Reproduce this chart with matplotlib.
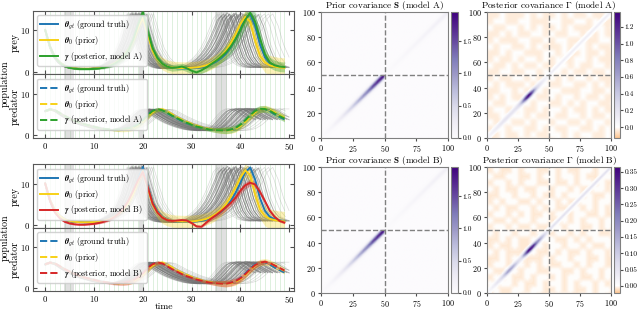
import numpy as np
import matplotlib
matplotlib.use('Agg')
import matplotlib.pyplot as plt
from matplotlib.colors import LinearSegmentedColormap

plt.rcParams['font.family'] = 'serif'
plt.rcParams['font.serif'] = ['cmr10', 'DejaVu Serif']
plt.rcParams['mathtext.fontset'] = 'cm'
plt.rcParams['axes.formatter.use_mathtext'] = True
plt.rcParams['axes.unicode_minus'] = False

# ---- time series (t = 0..49) ----
t = np.arange(50)
prey_gt = [10.0, 6.0, 3.5, 2.2, 1.4, 1.0, 0.8, 0.7, 0.65, 0.65,
           0.7, 0.8, 1.0, 1.3, 1.8, 2.5, 3.5, 5.0, 7.5, 11.0,
           14.0, 9.5, 5.5, 3.3, 2.0, 1.4, 1.0, 0.8, 0.75, 0.75,
           0.8, 0.9, 1.05, 1.3, 1.8, 2.4, 3.2, 4.3, 5.8, 7.8,
           10.2, 12.8, 13.9, 11.0, 6.5, 3.5, 2.0, 1.4, 1.1, 1.0]
prey_prior = [10.0, 6.0, 3.5, 2.2, 1.4, 1.0, 0.8, 0.7, 0.7, 0.7,
              0.75, 0.85, 1.05, 1.35, 1.9, 2.6, 3.6, 5.1, 7.4, 10.5,
              13.0, 9.0, 5.0, 3.0, 1.9, 1.3, 1.0, 0.9, 0.85, 0.85,
              0.9, 1.0, 1.2, 1.5, 2.0, 2.7, 3.6, 5.0, 6.8, 9.0,
              11.5, 13.2, 12.0, 7.5, 3.8, 2.2, 1.5, 1.2, 1.0, 0.9]
prey_post_A = [10.0, 6.0, 3.4, 2.1, 1.3, 0.9, 0.7, 0.6, 0.6, 0.6,
               0.65, 0.75, 0.95, 1.3, 1.8, 2.5, 3.5, 5.0, 7.6, 11.2,
               14.3, 9.8, 5.6, 3.2, 1.9, 1.2, 0.9, 1.0, 1.2, 0.8,
               0.2, -0.2, 0.3, 1.0, 1.8, 2.6, 3.5, 4.6, 6.0, 7.8,
               10.0, 12.5, 14.2, 12.0, 8.0, 4.2, 2.2, 1.5, 1.2, 1.1]
prey_post_B = [10.0, 5.8, 3.0, 1.6, 0.8, 0.4, 0.2, 0.1, 0.1, 0.2,
               0.3, 0.5, 0.8, 1.2, 1.8, 2.7, 4.0, 5.8, 8.2, 10.8,
               12.8, 9.2, 5.2, 3.0, 1.8, 1.2, 1.0, 1.1, 1.2, 1.1,
               0.5, -0.3, -0.4, 0.6, 1.6, 2.4, 3.3, 4.3, 5.3, 6.6,
               8.3, 9.6, 10.2, 9.8, 8.0, 5.8, 3.5, 2.0, 1.0, 0.6]

pred_gt = [5.8, 6.2, 6.0, 5.3, 4.6, 4.0, 3.5, 3.0, 2.6, 2.3,
           2.0, 1.7, 1.5, 1.3, 1.2, 1.2, 1.3, 1.5, 1.9, 2.6,
           3.6, 4.9, 5.8, 6.2, 6.0, 5.3, 4.6, 4.0, 3.4, 2.9,
           2.5, 2.1, 1.8, 1.5, 1.3, 1.2, 1.1, 1.1, 1.3, 1.7,
           2.5, 3.6, 4.8, 5.8, 6.3, 6.3, 5.8, 5.0, 4.4, 3.8]
pred_prior = [5.8, 6.2, 6.0, 5.3, 4.6, 4.0, 3.5, 3.0, 2.6, 2.3,
              2.0, 1.7, 1.5, 1.3, 1.2, 1.15, 1.2, 1.4, 1.7, 2.3,
              3.2, 4.4, 5.5, 6.1, 6.2, 5.7, 5.0, 4.3, 3.7, 3.2,
              2.7, 2.3, 1.9, 1.6, 1.4, 1.2, 1.1, 1.1, 1.2, 1.5,
              2.2, 3.2, 4.4, 5.5, 6.2, 6.4, 6.1, 5.5, 4.8, 4.2]
pred_post_A = [5.8, 6.2, 6.0, 5.3, 4.6, 4.0, 3.5, 3.0, 2.6, 2.3,
               2.0, 1.7, 1.5, 1.4, 1.3, 1.35, 1.5, 1.6, 1.9, 2.5,
               3.5, 4.8, 5.8, 6.2, 6.0, 5.4, 4.7, 4.1, 3.5, 3.0,
               2.5, 2.1, 1.8, 1.5, 1.3, 1.2, 1.15, 1.15, 1.3, 1.7,
               2.5, 3.6, 4.8, 5.8, 6.3, 6.3, 5.9, 5.2, 4.6, 4.0]
pred_post_B = [5.8, 6.2, 6.0, 5.3, 4.6, 4.0, 3.5, 3.0, 2.6, 2.3,
               2.0, 1.7, 1.5, 1.3, 1.2, 1.2, 1.3, 1.5, 1.9, 2.6,
               3.6, 4.9, 5.8, 6.2, 6.0, 5.3, 4.6, 4.0, 3.4, 2.9,
               2.5, 2.1, 1.8, 1.5, 1.3, 1.2, 1.1, 1.1, 1.3, 1.7,
               2.4, 3.4, 4.6, 5.6, 6.2, 6.4, 6.1, 5.5, 4.9, 4.3]

# band half-widths
hw_prior_prey = [0.2] * 15 + [0.4, 0.6, 0.8, 1.0, 1.0, 1.0, 1.0, 1.2, 1.4, 1.5,
                              1.5, 1.5, 1.5, 1.5, 1.5, 1.5, 1.5, 1.5, 1.5, 1.5,
                              1.5, 1.5, 1.5, 1.5, 1.5, 1.5, 1.5, 1.8, 2.0, 2.2,
                              2.4, 2.4, 2.4, 2.4, 2.4]
hw_post_prey = [0.2] * 12 + [0.3, 0.4, 0.6, 0.8, 1.0, 1.2, 1.5, 1.5, 1.5, 1.5,
                             1.2, 1.0, 0.8, 0.8, 0.8, 0.8, 0.8, 0.8, 0.8, 0.8,
                             0.8, 0.9, 1.0, 1.2, 1.4, 1.6, 1.8, 2.0, 2.0, 2.0,
                             2.0, 2.0, 1.8, 1.5, 1.3, 1.2, 1.2, 1.2]
hw_pred = [0.2] * 15 + [0.3, 0.4, 0.5, 0.6, 0.7, 0.7, 0.6, 0.5, 0.5, 0.5,
                        0.5, 0.4, 0.4, 0.4, 0.4, 0.4, 0.4, 0.4, 0.4, 0.5,
                        0.6, 0.7, 0.8, 0.8, 0.8, 0.8, 0.8, 0.8, 0.8, 0.8,
                        0.8, 0.8, 0.8, 0.8, 0.8]
hw_red = [0.2] * 12 + [0.3, 0.3, 0.4, 0.5, 0.6, 0.7, 0.7, 0.7, 0.7, 0.6,
                       0.5, 0.4, 0.3, 0.3, 0.3, 0.3, 0.3, 0.3, 0.3, 0.3,
                       0.3, 0.4, 0.5, 0.6, 0.7, 0.8, 0.8, 0.8, 0.8, 0.8,
                       0.8, 0.7, 0.6, 0.5, 0.4, 0.3, 0.3, 0.3]

# prior ensemble members: time stretch and amplitude factor
ens_stretch = [0.86, 0.87, 0.88, 0.89, 0.90, 0.90, 0.91, 0.92, 0.92, 0.93,
               0.93, 0.94, 0.95, 0.95, 0.96, 0.97, 0.97, 0.98, 0.99, 1.00,
               1.01, 1.02, 1.04]
ens_amp = [0.97, 1.0, 0.98, 1.02, 0.99, 1.0, 0.97, 1.01, 0.98, 1.0,
           1.02, 0.99, 0.97, 1.0, 1.01, 0.98, 1.0, 0.99, 1.02, 0.98,
           1.0, 0.97, 0.99]
faint_stretch = [0.84, 0.85, 0.88, 0.95, 1.03, 1.05, 1.07, 1.09, 1.11]

obs_spans = [(3.9, 5.9), (19.3, 20.2), (34.8, 37.2)]

C_BLUE = '#1f77b4'
C_YEL = '#f7d117'
C_GREEN = '#2ca02c'
C_RED = '#d62728'


def series_panel(ax, gt, prior, post, hw_p, hw_q, col, ls, model):
    for x in t:
        ax.axvline(x, color=C_GREEN, alpha=0.18, lw=0.6, zorder=0)
    for a, b in obs_spans:
        ax.axvspan(a, b, color='0.6', alpha=0.3, lw=0, zorder=0)
    gt = np.array(gt)
    for s in faint_stretch:
        m = t * s <= 50
        ax.plot(t[m] * s, gt[m], color='0.6', lw=0.5, alpha=0.35, zorder=1)
    for s, a in zip(ens_stretch, ens_amp):
        m = t * s <= 50
        ax.plot(t[m] * s, gt[m] * a, color='0.45', lw=0.7, alpha=0.55, zorder=1)
    prior = np.array(prior)
    post = np.array(post)
    ax.fill_between(t, prior - np.array(hw_p), prior + np.array(hw_p),
                    color=C_YEL, alpha=0.3, lw=0, zorder=2)
    ax.fill_between(t, post - np.array(hw_q), post + np.array(hw_q),
                    color=col, alpha=0.35, lw=0, zorder=2)
    l1, = ax.plot(t, gt, color=C_BLUE, lw=1.4, ls=ls, zorder=3,
                  label=r'$\boldsymbol{\theta}_{gt}$ (ground truth)')
    l2, = ax.plot(t, prior, color=C_YEL, lw=1.4, ls=ls, zorder=3,
                  label=r'$\boldsymbol{\theta}_{0}$ (prior)')
    l3, = ax.plot(t, post, color=col, lw=1.4, ls=ls, zorder=4,
                  label=r'$\boldsymbol{\gamma}$ (posterior, model %s)' % model)
    ax.legend(handles=[l1, l2, l3], loc='upper left', fontsize=5.8,
              handlelength=2.2, framealpha=0.85, borderpad=0.4,
              labelspacing=0.35, edgecolor='0.8')
    ax.set_xlim(-2.5, 51)
    ax.set_ylim(-0.7, 14.6)
    ax.set_xticks([0, 10, 20, 30, 40, 50])
    ax.set_yticks([0, 10])
    ax.tick_params(direction='in', top=True, right=True, labelsize=6.3,
                   length=3, pad=2, color='0.3')
    for sp in ax.spines.values():
        sp.set_color('0.35')


fig = plt.figure(figsize=(6.4, 3.11), dpi=100)

groups = [
    (0.7605, 0.5563, prey_post_A, pred_post_A, C_GREEN, hw_post_prey, hw_pred, 'A'),
    (0.2669, 0.0643, prey_post_B, pred_post_B, C_RED, hw_red, hw_red, 'B'),
]
for y_prey, y_pred, pq, dq, col, hwq, hwd, model in groups:
    h = y_prey - y_pred
    ax1 = fig.add_axes([0.0516, y_prey, 0.408, 0.2042])
    ax2 = fig.add_axes([0.0516, y_pred, 0.408, h])
    series_panel(ax1, prey_gt, prey_prior, pq, hw_prior_prey, hwq, col, '-', model)
    series_panel(ax2, pred_gt, pred_prior, dq, hw_pred, hwd, col, '--', model)
    ax1.tick_params(labelbottom=False)
    ax1.set_ylabel('prey', fontsize=7.2)
    ax2.set_ylabel('predator', fontsize=7.2)
    ax1.yaxis.set_label_coords(-0.052, 0.5)
    ax2.yaxis.set_label_coords(-0.052, 0.5)
    fig.text(0.008, y_prey - 0.03, 'population', rotation=90,
             va='center', ha='center', fontsize=7.2)
    if model == 'B':
        ax2.set_xlabel('time', fontsize=7, labelpad=-1.5)

# ---- covariance matrices (100 x 100: prey block 0-49, predator block 50-99) ----
prior_var_prey = [0.01, 0.02, 0.03, 0.04, 0.05, 0.06, 0.07, 0.08, 0.10, 0.12,
                  0.14, 0.16, 0.18, 0.20, 0.22, 0.25, 0.28, 0.30, 0.33, 0.36,
                  0.40, 0.44, 0.48, 0.52, 0.56, 0.60, 0.65, 0.70, 0.75, 0.80,
                  0.85, 0.90, 0.95, 1.00, 1.05, 1.10, 1.15, 1.20, 1.30, 1.40,
                  1.50, 1.55, 1.60, 1.65, 1.70, 1.75, 1.80, 1.85, 1.90, 1.90]
prior_var_pred = [0.02, 0.02, 0.03, 0.03, 0.03, 0.04, 0.04, 0.04, 0.05, 0.05,
                  0.05, 0.06, 0.06, 0.06, 0.07, 0.07, 0.07, 0.08, 0.08, 0.08,
                  0.09, 0.09, 0.10, 0.10, 0.10, 0.11, 0.11, 0.12, 0.12, 0.12,
                  0.13, 0.13, 0.14, 0.14, 0.14, 0.15, 0.15, 0.16, 0.16, 0.16,
                  0.17, 0.17, 0.18, 0.18, 0.19, 0.19, 0.20, 0.20, 0.21, 0.21]
postA_var_prey = [0.06, 0.07, 0.08, 0.09, 0.10, 0.11, 0.12, 0.13, 0.14, 0.15,
                  0.16, 0.17, 0.18, 0.19, 0.20, 0.20, 0.20, 0.20, 0.20, 0.20,
                  0.20, 0.20, 0.21, 0.22, 0.24, 0.28, 0.34, 0.45, 0.60, 0.80,
                  1.00, 1.20, 1.30, 1.35, 1.30, 1.20, 1.00, 0.80, 0.55, 0.40,
                  0.30, 0.25, 0.20, 0.18, 0.15, 0.12, 0.10, 0.10, 0.08, 0.05]
postA_var_pred = [0.12] * 50
postB_var_prey = [0.01, 0.01, 0.02, 0.02, 0.03, 0.03, 0.04, 0.04, 0.05, 0.05,
                  0.06, 0.07, 0.08, 0.10, 0.12, 0.14, 0.16, 0.17, 0.17, 0.16,
                  0.15, 0.14, 0.12, 0.10, 0.08, 0.07, 0.06, 0.07, 0.10, 0.15,
                  0.20, 0.26, 0.32, 0.35, 0.36, 0.36, 0.35, 0.32, 0.28, 0.24,
                  0.20, 0.18, 0.16, 0.14, 0.12, 0.10, 0.08, 0.06, 0.05, 0.03]
postB_var_pred = [0.06] * 50

# orange patches of slightly negative covariance (20 x 20 cells, top row first)
patches_A = ["oo.ooo.o.oo.o.oo.oo.",
             "o..oo..ooo..oo..o.oo",
             ".oo..o.o.oo.o.ooo..o",
             "oo.o.oo..o.oo..o.o.o",
             "o.ooo..oo.o..oo.oo..",
             ".o..oo.o.ooo.o..o.oo",
             "oo.o..ooo..o.oo.oo.o",
             "o.oo.o..o.o.oo..o.oo",
             ".oo.o.oo.oo..o.oo..o",
             "oo..oo..o.o.o.oo.oo.",
             "o.oo..o.oo.o.o..o.oo",
             ".o.ooo.o..oo..oo.o.o",
             "oo..o.oo.o..ooo..oo.",
             "o.o.oo..oo.o..o.oo.o",
             ".oo..o.o..oo.o.o..oo",
             "o..oo.oo.o..o.oo.o.o",
             "oo.o..o.oo.oo..o.oo.",
             ".oo.oo.o..o..oo.o..o",
             "o..o..oo.o.oo..oo.o.",
             "oo.oo.o.oo..o.o..oo."]
patches_B = ["o.oo.o..oo.o.oo..o.o",
             ".oo..oo.o..o..o.oo..",
             "o..o.o..oo.oo.o..o.o",
             ".o.oo.oo..o..o.oo..o",
             "oo..o..o.oo.o..o.oo.",
             "o.o..oo.o..o.oo..o..",
             ".o.oo..o.o.oo..o.o.o",
             "o..o.o.oo.o..o..oo.o",
             ".oo.o..o..oo.o.o..o.",
             "o..o.oo.oo..o..oo.o.",
             ".o..o..o.oo..o.o..oo",
             "oo.o.oo.o..oo.o.o...",
             "o.oo.ooo.o..o..o.oo.",
             ".o.oooo.oo.o.oo.o..o",
             "oo.o.oooo.o..o..oo.o",
             "o..oo.o.o.oo..o.o..o",
             ".oo..o..oo..oo.o..o.",
             "o.o.oo.o..o.o..oo.o.",
             ".o..o.oo.o..o.o..o.o",
             "o.oo..o..oo.o.oo.o.."]


def band_block(var, width):
    v = np.sqrt(np.array(var))
    d = np.subtract.outer(np.arange(50), np.arange(50)).astype(float)
    return np.outer(v, v) * np.exp(-d ** 2 / (2 * width ** 2))


def blur3(a):
    out = np.zeros_like(a)
    for dy in (-1, 0, 1):
        for dx in (-1, 0, 1):
            out += np.roll(np.roll(a, dy, axis=0), dx, axis=1)
    return out / 9.0


def cov_matrix(var_prey, var_pred, w1, w2, patches=None, level=0.0):
    M = np.zeros((100, 100))
    M[:50, :50] = band_block(var_prey, w1)
    M[50:, 50:] = band_block(var_pred, w2)
    if patches is not None:
        g = np.array([[1.0 if c == 'o' else 0.0 for c in row] for row in patches])[::-1]
        g = np.repeat(np.repeat(g, 5, axis=0), 5, axis=1)
        sm = blur3(blur3(g))
        gap = np.abs(np.subtract.outer(np.arange(100), np.arange(100))) > 3
        M += level * sm * gap
    return M


purp = plt.get_cmap('Purples')


def div_cmap(vmin, vmax):
    z = -vmin / (vmax - vmin)
    cols = [(0.0, '#fdc590'), (z, '#ffffff')]
    for f in np.linspace(0.1, 1.0, 10):
        cols.append((z + (1 - z) * f, purp(0.05 + 0.95 * f)))
    return LinearSegmentedColormap.from_list('div', cols)


S_A = cov_matrix(prior_var_prey, prior_var_pred, 1.8, 1.8)
G_A = cov_matrix(postA_var_prey, postA_var_pred, 1.6, 1.0, patches_A, -0.04)
S_B = S_A.copy()
G_B = cov_matrix(postB_var_prey, postB_var_pred, 1.5, 1.0, patches_B, -0.007)

HM_H = 0.405
cov_rows = [
    (0.5563, S_A, G_A, 'A', (-0.13, 1.38), [0.0, 0.2, 0.4, 0.6, 0.8, 1.0, 1.2], '%.1f'),
    (0.0579, S_B, G_B, 'B', (-0.022, 0.365), [0.0, 0.05, 0.1, 0.15, 0.2, 0.25, 0.3, 0.35], '%.2f'),
]
for y0, S, G, model, (gmin, gmax), gticks, fmt in cov_rows:
    axS = fig.add_axes([0.5016, y0, 0.1984, HM_H])
    caxS = fig.add_axes([0.7047, y0, 0.0109, HM_H])
    imS = axS.imshow(S, origin='lower', extent=(0, 100, 0, 100), cmap='Purples',
                     vmin=0, vmax=1.95, aspect='auto', interpolation='bilinear')
    cbS = fig.colorbar(imS, cax=caxS)
    cbS.set_ticks([0.0, 0.5, 1.0, 1.5])
    cbS.ax.yaxis.set_major_formatter(matplotlib.ticker.FormatStrFormatter('%.1f'))
    axS.set_title(r'Prior covariance $\mathbf{S}$ (model %s)' % model, fontsize=6.6, pad=0.4)

    axG = fig.add_axes([0.7609, y0, 0.1937, HM_H])
    caxG = fig.add_axes([0.9595, y0, 0.0094, HM_H])
    imG = axG.imshow(G, origin='lower', extent=(0, 100, 0, 100), cmap=div_cmap(gmin, gmax),
                     vmin=gmin, vmax=gmax, aspect='auto', interpolation='bilinear')
    cbG = fig.colorbar(imG, cax=caxG)
    cbG.set_ticks(gticks)
    cbG.ax.yaxis.set_major_formatter(matplotlib.ticker.FormatStrFormatter(fmt))
    axG.set_title(r'Posterior covariance $\boldsymbol{\Gamma}$ (model %s)' % model, fontsize=6.6, pad=0.4)

    for ax in (axS, axG):
        ax.axhline(50, color='0.5', ls='--', lw=1)
        ax.axvline(50, color='0.5', ls='--', lw=1)
        ax.set_xticks([0, 25, 50, 75, 100])
        ax.set_yticks([0, 20, 40, 60, 80, 100])
        ax.tick_params(labelsize=5.8, length=2.5, pad=1.0, color='0.3')
        for sp in ax.spines.values():
            sp.set_color('0.5')
    for cb in (cbS, cbG):
        cb.ax.tick_params(labelsize=5.3, length=2.2, pad=1.0, color='0.3')
        cb.outline.set_edgecolor('0.5')

fig.savefig('out.png', dpi=100)
